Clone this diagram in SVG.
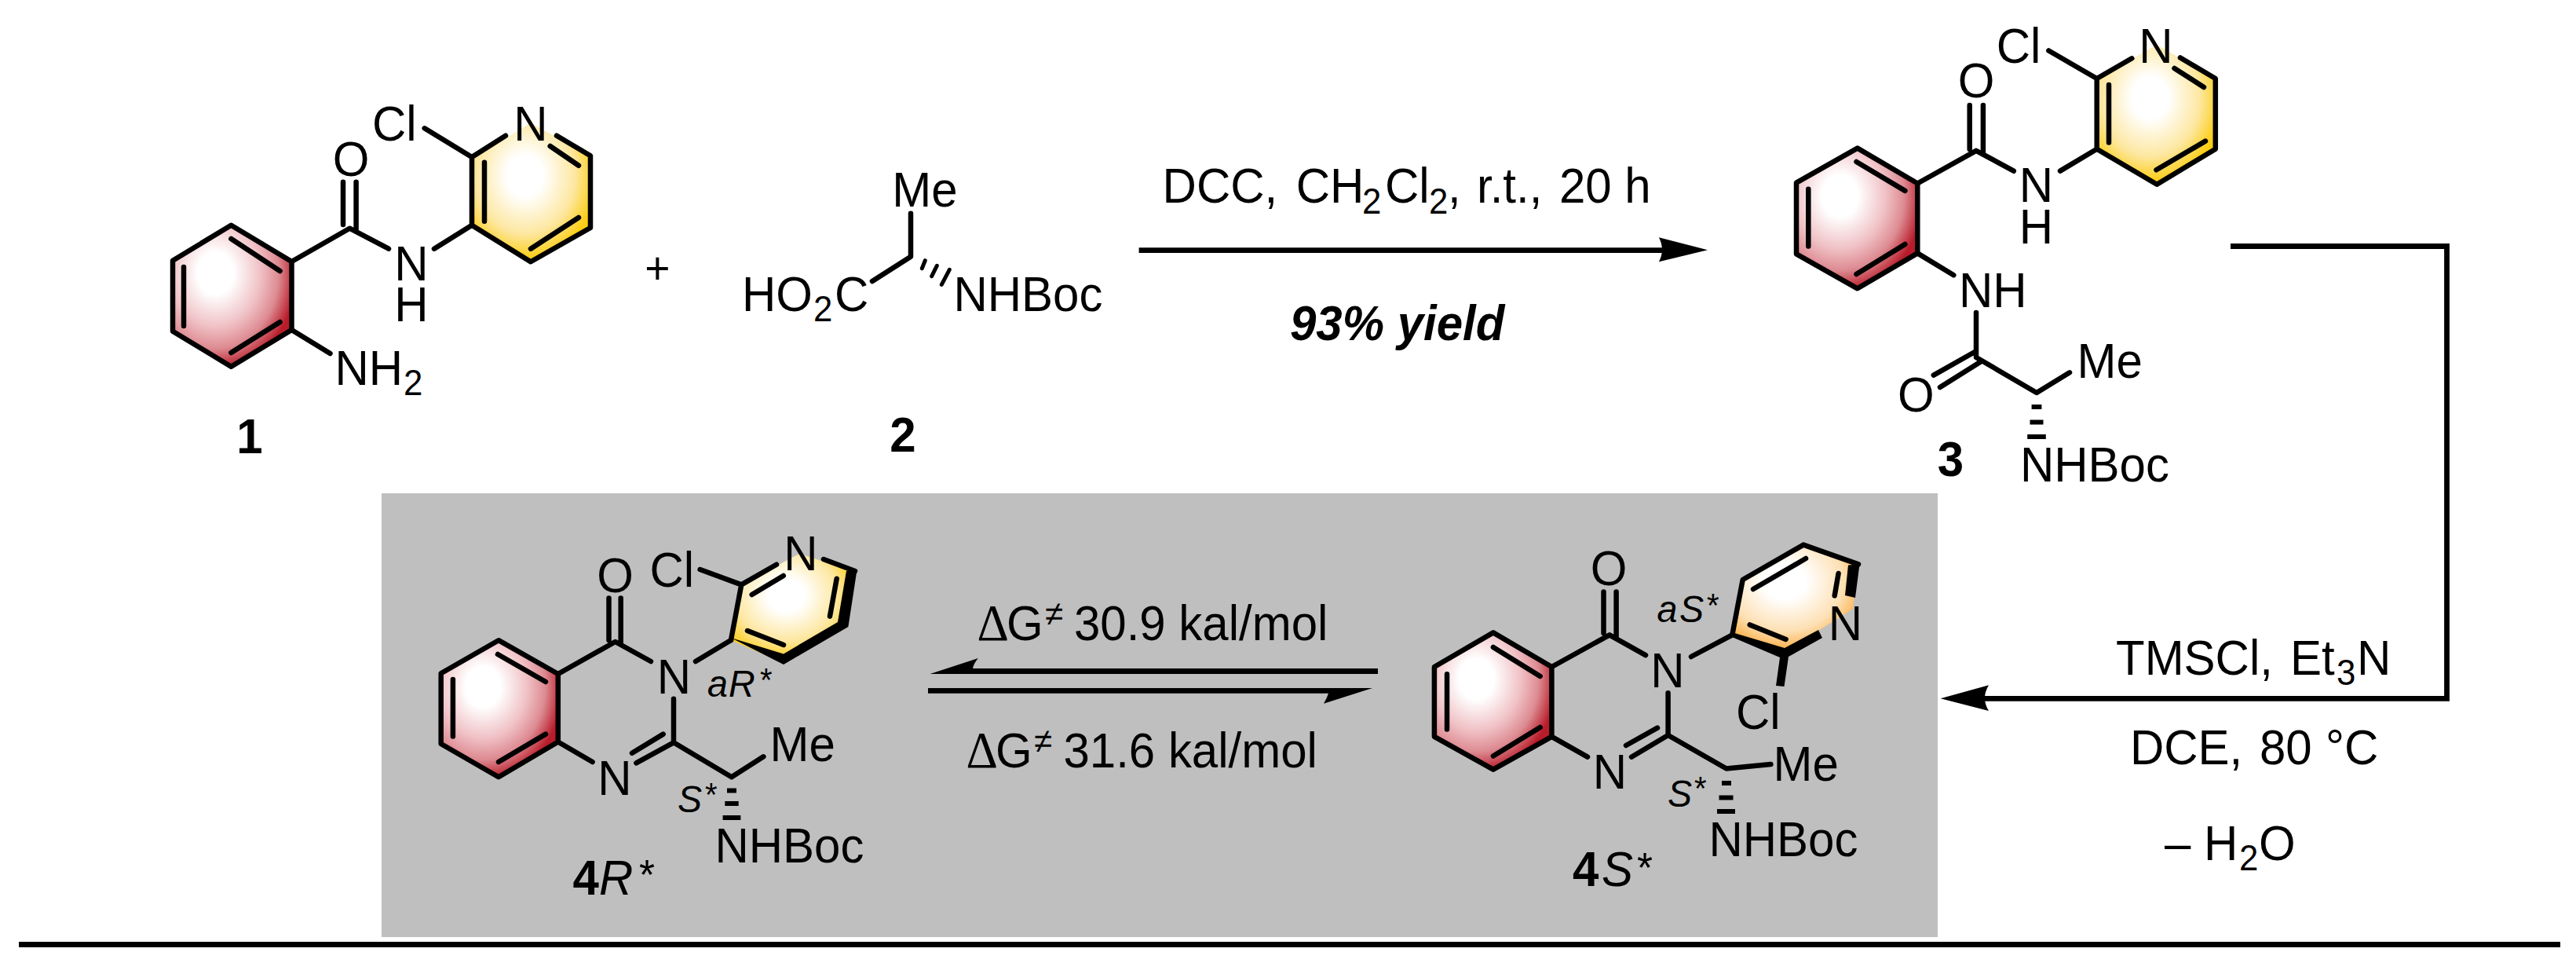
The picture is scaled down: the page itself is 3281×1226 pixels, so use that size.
<svg xmlns="http://www.w3.org/2000/svg" width="3281" height="1226" viewBox="0 0 3281 1226">
<style>
text{font-family:"Liberation Sans",Arial,sans-serif;font-size:63px;fill:#000;transform-box:fill-box;transform-origin:0 0;transform:scaleX(.952)}
.m{text-anchor:middle;transform-origin:50% 0}
.s{font-size:46px}
.l{font-weight:bold;text-anchor:middle;transform-origin:50% 0}
.i{font-style:italic;font-size:49px}
.a{font-size:42px}
.A{font-size:54px}
.d{font-family:"Liberation Serif",serif;font-size:66px}
.n{font-size:44px}
.b{fill:none;stroke:#000;stroke-width:6.5;stroke-linecap:round;stroke-linejoin:round}
.bk{fill:#000;stroke:none}
.h{fill:none;stroke:#000;stroke-width:5;stroke-linecap:round}
.c{fill:none;stroke:#000;stroke-width:6.8}
.red{fill:url(#redG);stroke:none}
.yel{fill:url(#yelG);stroke:none}
.ora{fill:url(#oraG);stroke:none}
</style>
<defs>
<radialGradient id="redG" cx=".36" cy=".34" r=".68"><stop offset="0" stop-color="#fff"/><stop offset=".22" stop-color="#fff"/><stop offset=".55" stop-color="#f0c2c6"/><stop offset=".78" stop-color="#dd8b92"/><stop offset="1" stop-color="#b81c2a"/></radialGradient>
<radialGradient id="yelG" cx=".45" cy=".38" r=".6"><stop offset="0" stop-color="#fff"/><stop offset=".25" stop-color="#fff"/><stop offset=".7" stop-color="#fde7a0"/><stop offset="1" stop-color="#fbcd14"/></radialGradient>
<radialGradient id="oraG" cx=".42" cy=".34" r=".66"><stop offset="0" stop-color="#fff"/><stop offset=".25" stop-color="#fff"/><stop offset=".7" stop-color="#fde0b4"/><stop offset="1" stop-color="#faa93c"/></radialGradient>
</defs>
<rect width="3281" height="1226" fill="#fff"/>
<rect id="panel" x="486" y="628" width="1982" height="565" fill="#bfbfbf"/>
<rect id="rule" x="24" y="1199" width="3237" height="7" fill="#000"/>

<g id="connectors">
<path class="c" d="M1450.6 318.7H2125"/>
<path class="bk" d="M2175 318.3L2112.9 302.3Q2121 318 2112.9 333.3Z"/>
<path class="c" d="M2841 313.5H3116.5V889.3H2522"/>
<path class="bk" d="M2471.6 889.3L2533 872.3Q2523 889 2533 905Z"/>
<path class="bk" d="M1755 851V858H1184.6L1245.8 838Q1240 845 1239 851Z"/>
<path class="bk" d="M1182 876H1748L1686 895.7Q1690 889 1692 882.7H1182Z"/>
</g>

<g id="compound-1">
<path class="red" d="M294.4 286.7L371.5 333V420L294.4 466.7L220 421.7V331.7Z"/>
<path class="yel" d="M601 201.7L675.9 156.7L752 198.3V290L675.9 333.3L601 286.7Z"/>
<path class="b" d="M294.4 286.7L371.5 333V420L294.4 466.7L220 421.7V331.7Z"/>
<path class="b" d="M294.4 304L356.6 345M234 340V415M356.6 410L294.4 449"/>
<path class="b" d="M371.5 333L445.3 290.7L495 316.7M437 231.7V286M453.6 231.7V292M553 316.7L601 286.7"/>
<path class="b" d="M644 172.7L601 200V286.7L675.9 333.3L752 290V198.3L709 172.7M617 206.7V281.7M700.7 186L737 210.7M737 277L676 316.7M540.7 163.3L601 200"/>
<path class="b" d="M371.5 420L420.5 450"/>
<text class="m" x="447" y="224">O</text>
<text x="474" y="179">Cl</text>
<text class="m" x="675.9" y="179">N</text>
<text class="m" x="524" y="356.7">N</text>
<text class="m" x="524" y="409">H</text>
<text x="426.4" y="490">NH</text>
<text class="s" x="514" y="503">2</text>
<text class="l" x="318" y="577">1</text>
</g>

<text id="plus" class="m" x="837.5" y="361" style="font-size:58px">+</text>

<g id="compound-2">
<path class="b" d="M1160 271.7V326.7L1111 358"/>
<path class="h" d="M1178.3 331.7L1174.3 341.7M1193.3 338.3L1186.7 351.7M1209.3 343.3L1199.3 362.3"/>
<text class="m" x="1178" y="263">Me</text>
<text x="945" y="396">HO</text>
<text class="s" x="1036" y="409">2</text>
<text x="1063" y="396">C</text>
<text x="1214.5" y="396">NHBoc</text>
<text class="l" x="1150" y="575">2</text>
</g>

<g id="conditions-1">
<text x="1480.6" y="258.3">DCC,</text>
<text x="1650.7" y="258.3">CH</text>
<text class="s" x="1735" y="271.7">2</text>
<text x="1764" y="258.3">Cl</text>
<text class="s" x="1820" y="271.7">2</text>
<text x="1844" y="258.3">,</text>
<text x="1881" y="258.3">r.t.,</text>
<text x="1986" y="258.3">20 h</text>
<text x="1643" y="433" style="font-weight:bold;font-style:italic">93% yield</text>
</g>

<g id="compound-3">
<path class="red" d="M2365.8 188.6L2442.3 233.5V322.4L2365.8 367.3L2288 323.3V232.7Z"/>
<path class="yel" d="M2670.7 100L2747 57L2821.8 100V189.8L2747.2 234.7L2670.7 189.8Z"/>
<path class="b" d="M2365.8 188.6L2442.3 233.5V322.4L2365.8 367.3L2288 323.3V232.7Z"/>
<path class="b" d="M2364.5 206L2426.4 242.9M2303.3 240.8V313.5M2426.4 311L2364.5 349"/>
<path class="b" d="M2442.3 233.5L2517 191.8L2564.8 217.6M2508.7 133.9V190M2525.9 133.9V196M2624 217.6L2670.7 189.8"/>
<path class="b" d="M2715.3 74.3L2670.7 100V189.8L2747.2 234.7L2821.8 189.8V100L2777 73.5M2686 108V181.6M2769.5 87L2807 111M2809 179.6L2746.5 216.3M2609.4 64.5L2670.7 100"/>
<path class="b" d="M2442.3 322.4L2488.3 350.2M2517 398V455L2594 500L2636 474.3M2517 447L2462.8 477.6M2522 461L2471 493"/>
<path class="bk" d="M2587.6 515H2600.4V521H2587.6ZM2585.5 534.5H2602.5V540.5H2585.5ZM2582.2 553H2605.8V559H2582.2Z"/>
<text class="m" x="2517" y="124">O</text>
<text x="2542.7" y="80.4">Cl</text>
<text class="m" x="2746" y="80.4">N</text>
<text class="m" x="2593.5" y="257">N</text>
<text class="m" x="2593.5" y="310">H</text>
<text x="2495" y="391">NH</text>
<text class="m" x="2440.4" y="524">O</text>
<text x="2645.5" y="481">Me</text>
<text x="2573" y="613.5">NHBoc</text>
<text class="l" x="2484.5" y="606">3</text>
</g>

<g id="compound-4R">
<path class="red" d="M635 815.2L710.8 858V944.5L635 989.3L561.7 947V857.3Z"/>
<path class="yel" d="M931 815L944.3 744.4L1018 705L1087 727L1078 796.8L998 844Z"/>
<path class="b" d="M635 815.2L710.8 858V944.5L635 989.3L561.7 947V857.3Z"/>
<path class="b" d="M634 833L695 868M576.9 865V937.6M695 934.6L635 970"/>
<path class="b" d="M710.8 858L783.6 817L829 842M775.5 761.6V815M790.7 761.6V820M886 842L931 815M858 889.8V945.3L810.4 971.3M844.7 934.6L805 958.7M710.8 944.5L754.6 970M858 945.3L931.8 989.3L972.4 963.3"/>
<path class="b" d="M891.6 725L944.3 744.4L989 718.7M931 815L944.3 744.4M957.7 757L997.8 733M1049 712L1089 727M1065.7 736.7L1057 784.6M952 803L998 821"/>
<path class="bk" d="M931 812L998 832.4L1067 792L1078 727L1091.6 725L1080.4 798L998 846Z"/>
<path class="bk" d="M926 1003.5H938V1009.5H926ZM923.3 1020H940.7V1026H923.3ZM920.6 1038H943.4V1044H920.6Z"/>
<text class="m" x="783.6" y="754">O</text>
<text x="827.4" y="747">Cl</text>
<text class="m" x="1020" y="726.4">N</text>
<text class="m" x="858.3" y="883.3">N</text>
<text class="m" x="783" y="1012.3">N</text>
<text x="980.5" y="969">Me</text>
<text x="910.5" y="1098.4">NHBoc</text>
<text class="i" x="901" y="886.7">a</text>
<text class="i" x="928" y="886.7">R</text>
<text class="a" x="968" y="880">*</text>
<text class="i" x="863" y="1034">S</text>
<text class="a" x="898" y="1026.5">*</text>
<text x="729.5" y="1138.6" style="font-weight:bold">4</text>
<text x="763" y="1138.6" style="font-style:italic">R</text>
<text class="A" x="814" y="1132">*</text>
</g>

<g id="equilibrium-labels">
<text class="d" x="1244.5" y="815">Δ</text>
<text x="1282" y="815">G</text>
<text class="n" x="1331" y="796">≠</text>
<text x="1368" y="815">30.9 kal/mol</text>
<text class="d" x="1230.5" y="977">Δ</text>
<text x="1268" y="977">G</text>
<text class="n" x="1317" y="958">≠</text>
<text x="1354.5" y="977">31.6 kal/mol</text>
</g>

<g id="compound-4S">
<path class="red" d="M1901.9 805.4L1976.4 849V937.8L1901.9 979.6L1826.9 937.8V849Z"/>
<path class="ora" d="M2206.3 808.3L2219.7 738L2297 693.6L2367 718.4L2360 775L2273.3 830.5Z"/>
<path class="b" d="M1901.9 805.4L1976.4 849V937.8L1901.9 979.6L1826.9 937.8V849Z"/>
<path class="b" d="M1901.9 823.9L1961.7 860.9M1843 858.3V928.6M1961.7 926L1901.9 962.6"/>
<path class="b" d="M1976.4 849L2050 808.3L2096 834.2M2042.5 753.6V806M2058.6 753.6V812M2154 836L2206.3 808.3M2124.6 882.3V936L2078 963.7M2111 926.7L2071 949M1976.4 937.8L2022 963.7M2124.6 936L2198.8 978.5L2255.4 973"/>
<path class="b" d="M2206.3 808.3L2219.7 738L2297 693.6L2367 718.4M2233 750L2300 711M2341.6 730L2336.7 758.4M2228.7 795.4L2274.6 813.9"/>
<path class="bk" d="M2206 805L2273 825L2316 802L2321 812L2278 836L2272.5 874L2262 873L2267 837L2206 811Z"/>
<path class="bk" d="M2354 719.5L2368.5 718.5L2363 761L2350 758Z"/>
<path class="bk" d="M2193 994H2205V1000H2193ZM2189.5 1012.5H2207.5V1018.5H2189.5ZM2187 1030H2210V1036H2187Z"/>
<text class="m" x="2049" y="745">O</text>
<text x="2211" y="927.8">Cl</text>
<text class="m" x="2350.3" y="814.6">N</text>
<text class="m" x="2124" y="875">N</text>
<text class="m" x="2050.3" y="1004.4">N</text>
<text x="2258.5" y="994.4">Me</text>
<text x="2176.5" y="1090">NHBoc</text>
<text class="i" x="2110.5" y="791.7">a</text>
<text class="i" x="2139" y="791.7">S</text>
<text class="a" x="2174" y="785">*</text>
<text class="i" x="2124" y="1026.6">S</text>
<text class="a" x="2158" y="1018.5">*</text>
<text x="2003" y="1128.4" style="font-weight:bold">4</text>
<text x="2040" y="1128.4" style="font-style:italic">S</text>
<text class="A" x="2085" y="1123.4">*</text>
</g>

<g id="conditions-2">
<text x="2695" y="859">TMSCl,</text>
<text x="2917" y="859">Et</text>
<text class="s" x="2976" y="872">3</text>
<text x="3002" y="859">N</text>
<text x="2713" y="972.7">DCE,</text>
<text x="2878" y="972.7">80</text>
<text x="2962" y="972.7">°C</text>
<text x="2757" y="1095">– H</text>
<text class="s" x="2852" y="1108">2</text>
<text x="2877" y="1095">O</text>
</g>
</svg>
